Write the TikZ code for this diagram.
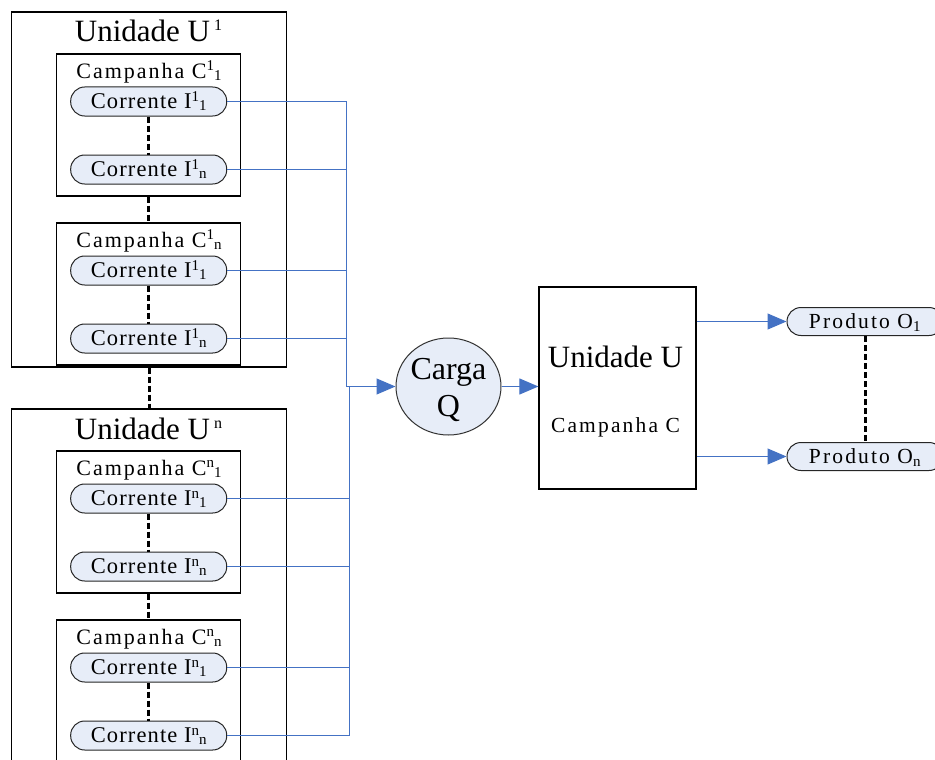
\documentclass[tikz,border=0pt]{standalone}
\usepackage{fontspec}
\setmainfont{Liberation Serif}
\newfontfamily\spc[LetterSpace=5]{Liberation Serif}
\newfontfamily\spcc[LetterSpace=9]{Liberation Serif}
\newfontfamily\spcw[LetterSpace=10]{Liberation Serif}
\usetikzlibrary{shapes.geometric,arrows.meta}
\definecolor{pillfill}{HTML}{E7EDF8}
\definecolor{lnblue}{HTML}{4472C4}
\newcommand{\mysup}[1]{\raisebox{7.5pt}{\fontsize{15}{15}\selectfont #1}}
\newcommand{\mysub}[1]{\raisebox{-2pt}{\fontsize{15}{15}\selectfont #1}}
\newcommand{\bigsup}[1]{\hspace{4pt}\raisebox{11pt}{\fontsize{16}{16}\selectfont #1}}
\begin{document}
\begin{tikzpicture}[x=1pt,y=-1pt,
  unitbox/.style={draw=black,line width=1.3pt,minimum width=275pt,minimum height=355pt,inner sep=0pt},
  campbox/.style={draw=black,line width=1.2pt,minimum width=184pt,minimum height=142pt,inner sep=0pt},
  pill/.style={draw=black!85,line width=1pt,fill=pillfill,rounded corners=14pt,minimum width=156pt,minimum height=29pt,inner sep=0pt,text height=14.5pt,text depth=0pt,font=\spc\fontsize{22.5}{22.5}\selectfont},
  ppill/.style={draw=black!85,line width=1pt,fill=pillfill,rounded corners=14pt,minimum width=156pt,minimum height=28pt,inner sep=0pt,text height=14.5pt,text depth=0pt,font=\spcw\fontsize{21.5}{21.5}\selectfont},
  bigtitle/.style={font=\fontsize{31}{36}\selectfont,inner sep=0pt,anchor=base},
  camptitle/.style={font=\spcc\fontsize{22}{22}\selectfont,inner sep=0pt,anchor=base},
  dots/.style={draw=black,line width=3pt,dash pattern=on 6pt off 3pt},
  blueline/.style={draw=lnblue,line width=1pt},
  arr/.style={-{Triangle[length=19pt,width=16pt]}},
  carga/.style={ellipse,draw=black!80,line width=1pt,fill=pillfill,minimum width=105pt,minimum height=97pt,inner sep=0pt}
]
\useasboundingbox (0,0) rectangle (935,760);

% junction coordinates
\coordinate (j1) at (346.5,386.5);
\coordinate (j2) at (349.5,386.5);

\foreach \o/\u/\k in {0/1/a,397/n/b}{
  \node[unitbox] (u\k) at (149,{189.5+\o}) {};
  \node[bigtitle] (ut\k) at (148.5,{42+\o}) {Unidade U\bigsup{\u}};
  \foreach \c/\cc/\m in {0/1/a,169/n/b}{
    \node[campbox] (c\k\m) at (148.7,{125+\o+\c}) {};
    \node[camptitle] (ct\k\m) at (149,{78+\o+\c}) {Campanha C\mysup{\u}\mysub{\cc}};
    \node[pill] (p\k\m1) at (148.7,{101.5+\o+\c}) {Corrente I\mysup{\u}\mysub{1}};
    \node[pill] (p\k\m2) at (148.7,{169.5+\o+\c}) {Corrente I\mysup{\u}\mysub{n}};
    \draw[dots] (p\k\m1.south) -- (p\k\m2.north);
  }
  \draw[dots] (c\k a.south) -- (c\k b.north);
}
\draw[dots] (ua.south) -- (ub.north);

% blue connectors
\foreach \m in {a,b}{
  \foreach \i in {1,2}{
    \draw[blueline] (pa\m\i.east) -| (j1);
    \draw[blueline] (pb\m\i.east) -| (j2);
  }
}

% Carga Q
\node[carga] (cq) at (448.5,386.5) {};
\node[font=\fontsize{32}{37}\selectfont,align=center,inner sep=0pt] (cqt) at (448.5,390) {Carga\\Q};
\draw[blueline,arr] (j1) -- (j1 -| cq.west);

% Unidade U
\node[draw=black,line width=1.2pt,minimum width=157pt,minimum height=202pt,inner sep=0pt] (uu) at (617.5,388) {};
\node[bigtitle] (uut) at (615.5,367) {Unidade U};
\node[font=\spcw\fontsize{21.5}{21.5}\selectfont,inner sep=0pt,anchor=base] (uuc) at (615.5,432) {Campanha C};
\draw[blueline,arr] (cq.east) -- (cq.east -| uu.west);

% Produtos
\node[ppill] (o1) at (865,321.5) {Produto O\textsubscript{1}};
\node[ppill] (on) at (865,456.5) {Produto O\textsubscript{n}};
\draw[dots] (o1.south) -- (on.north);
\draw[blueline,arr] (uu.east |- o1) -- (o1.west);
\draw[blueline,arr] (uu.east |- on) -- (on.west);
\end{tikzpicture}
\end{document}
